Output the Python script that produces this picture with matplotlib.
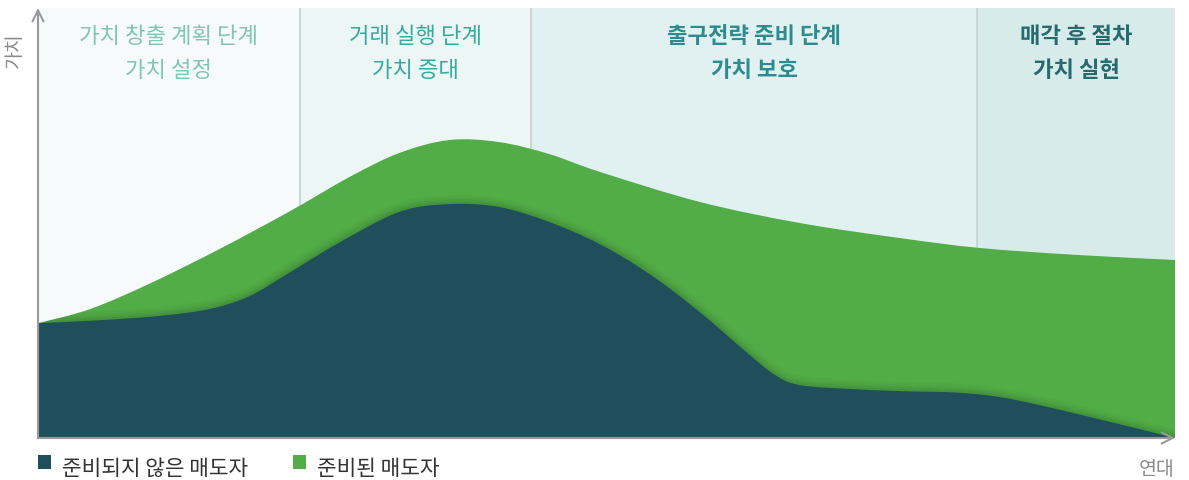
"""Seller value curve by exit phase (ready vs. unready sellers)."""
import matplotlib
matplotlib.use('Agg')
import matplotlib.pyplot as plt
from matplotlib.path import Path
from matplotlib.patches import PathPatch, Rectangle
import numpy as np

plt.rcParams['font.family'] = ['Noto Sans CJK KR', 'DejaVu Sans']

# phase bands (x in % of the time axis)
phase_edges = [0, 23.0, 43.4, 82.6, 100]
phase_line1 = ['가치 창출 계획 단계', '거래 실행 단계', '출구전략 준비 단계', '매각 후 절차']
phase_line2 = ['가치 설정', '가치 증대', '가치 보호', '가치 실현']
phase_bg = ['#f6fafb', '#ecf6f5', '#e1f1f1', '#d7ecea']
phase_fg = ['#80c6b6', '#38a99d', '#2e8c8f', '#266a6e']
phase_bold = [False, False, True, True]

# ready sellers (top curve)
ready_x = [0, 4.6, 9.9, 16.0, 22.2, 27.4, 31.8, 36.2, 40.6, 45.0, 49.4,
           58.2, 67.0, 75.8, 82.8, 91.2, 100]
ready_y = [26.7, 30.0, 36.0, 44.0, 52.8, 60.7, 66.3, 69.3, 68.8, 66.0, 61.9,
           54.9, 50.0, 46.5, 44.2, 42.6, 41.4]

# unready sellers (bottom curve)
unready_x = [0, 5.5, 10.7, 15.1, 18.6, 22.2, 26.6, 31.8, 36.2, 40.6, 45.0, 49.4,
             53.8, 58.2, 62.2, 64.8, 67.0, 71.4, 75.8, 81.1, 85.5, 92.5, 100]
unready_y = [26.7, 27.4, 28.4, 30.0, 33.0, 38.6, 45.6, 52.6, 54.4, 53.7, 50.2, 45.1,
             38.1, 29.3, 20.2, 14.7, 12.3, 11.4, 10.9, 10.5, 9.1, 4.9, 0]

labels = ['준비되지 않은 매도자', '준비된 매도자']
colors = ['#1e4f5a', '#52ac47']


def smooth(xs, ys, close=False):
    pts = np.column_stack([xs, ys]).astype(float)
    verts = [pts[0]]
    codes = [Path.MOVETO]
    n = len(pts)
    for i in range(n - 1):
        p0 = pts[i - 1] if i > 0 else pts[i]
        p1, p2 = pts[i], pts[i + 1]
        p3 = pts[i + 2] if i + 2 < n else pts[i + 1]
        verts += [p1 + (p2 - p0) / 6, p2 - (p3 - p1) / 6, p2]
        codes += [Path.CURVE4] * 3
    if close:
        verts += [(xs[-1], 0), (xs[0], 0), (xs[0], 0)]
        codes += [Path.LINETO, Path.LINETO, Path.CLOSEPOLY]
    return Path(verts, codes)


fig = plt.figure(figsize=(11.89, 4.81), dpi=100)
ax = fig.add_axes([38 / 1189, 42 / 481, 1137 / 1189, 430 / 481])
ax.set_xlim(0, 100)
ax.set_ylim(0, 100)
ax.axis('off')

# background bands + headers
for i in range(4):
    x0, x1 = phase_edges[i], phase_edges[i + 1]
    ax.axvspan(x0, x1, color=phase_bg[i], lw=0, zorder=0)
    if i > 0:
        ax.axvline(x0, color='#c9d3d3', lw=1.3, zorder=0.5)
    xc = (x0 + x1) / 2
    w = 'bold' if phase_bold[i] else 'normal'
    ax.text(xc, 93.5, phase_line1[i], ha='center', va='center', fontsize=16,
            color=phase_fg[i], fontweight=w)
    ax.text(xc, 85.8, phase_line2[i], ha='center', va='center', fontsize=16,
            color=phase_fg[i], fontweight=w)

# areas
green = PathPatch(smooth(ready_x, ready_y, close=True), facecolor=colors[1],
                  edgecolor='none', zorder=2)
ax.add_patch(green)

# soft shadow on top of the dark area
edge = smooth(unready_x, unready_y)
for lw, a in [(13, 0.02), (9, 0.03), (6, 0.04), (3, 0.05)]:
    sh = PathPatch(edge, fill=False, edgecolor='black', lw=lw, alpha=a, zorder=3,
                   capstyle='butt')
    ax.add_patch(sh)
    sh.set_clip_path(green)

ax.add_patch(PathPatch(smooth(unready_x, unready_y, close=True), facecolor=colors[0],
                       edgecolor='none', zorder=4))

# axes with open arrowheads
axis_c = '#999999'
ax.annotate('', xy=(0, 1.0), xytext=(0, 0), xycoords='axes fraction',
            arrowprops=dict(arrowstyle='->', color=axis_c, lw=1.5,
                            mutation_scale=20, shrinkA=0, shrinkB=0), zorder=6)
ax.annotate('', xy=(1.0, 0), xytext=(0, 0), xycoords='axes fraction',
            arrowprops=dict(arrowstyle='->', color=axis_c, lw=1.5,
                            mutation_scale=20, shrinkA=0, shrinkB=0), zorder=6)
ax.text(-0.021, 0.905, '가치', transform=ax.transAxes, rotation=90, ha='center',
        va='center', fontsize=14, color='#8a8a8a')
ax.text(0.984, -0.07, '연대', transform=ax.transAxes, ha='center', va='center',
        fontsize=14, color='#8a8a8a')

# legend
leg_x = [0.0, 0.2243]
for i in range(2):
    ax.add_patch(Rectangle((leg_x[i], -0.04), 0.0115, -0.031, transform=ax.transAxes,
                           facecolor=colors[i], edgecolor='none', clip_on=False))
    ax.text(leg_x[i] + 0.021, -0.07, labels[i], transform=ax.transAxes, ha='left',
            va='center', fontsize=15.4, color='#333333')

fig.savefig('out.png', dpi=100)
